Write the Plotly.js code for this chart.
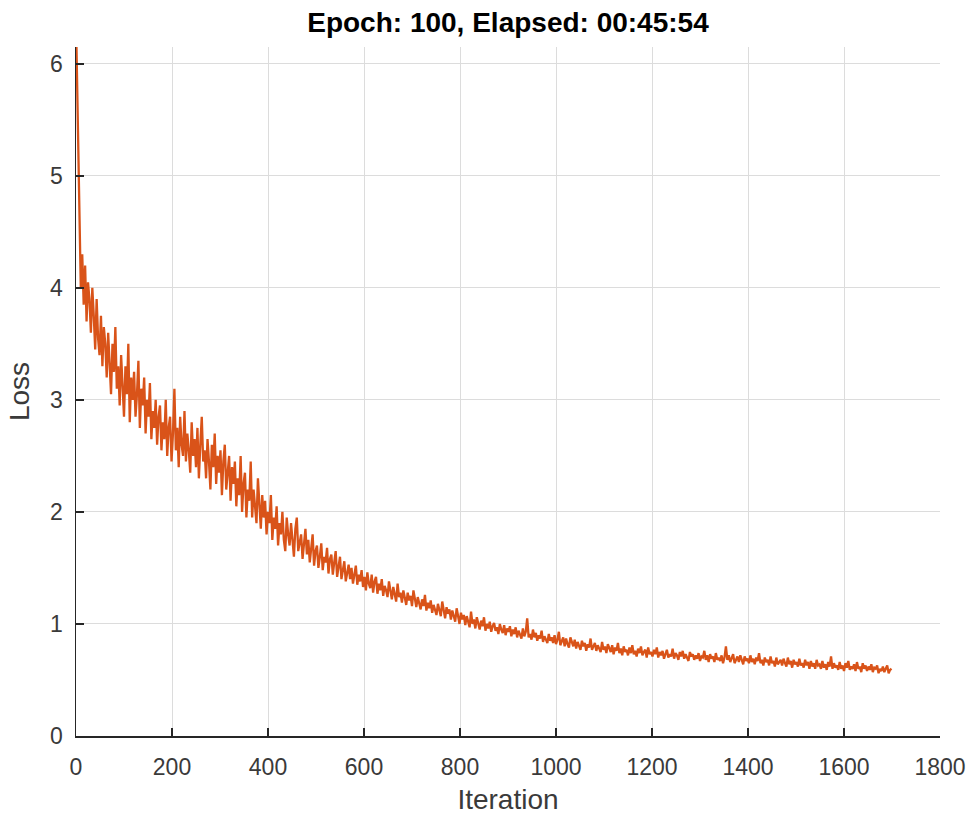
<!DOCTYPE html>
<html>
<head>
<meta charset="utf-8">
<script src="https://cdn.plot.ly/plotly-3.0.1.min.js"></script>
<style>html,body{margin:0;padding:0;background:#fff;}#chart{width:974px;height:815px;}</style>
</head>
<body>
<div id="chart"></div>
<script>
// Training loss, one value every 3 iterations starting at iteration 1
const firstIteration = 1;
const iterationStep = 3;
const lossValues = [
6.15,5.3,4.6,4.0,4.3,3.85,4.2,3.7,4.05,3.9,
3.6,4.0,3.75,3.45,3.9,3.55,3.4,3.75,3.3,3.65,
3.5,3.2,3.6,3.35,3.05,3.5,3.25,3.65,3.1,3.3,
2.95,3.4,3.15,2.85,3.3,3.05,3.5,2.8,3.2,3.0,
3.25,2.85,3.05,3.35,2.75,3.1,2.95,3.2,2.7,3.0,
2.85,3.15,2.65,2.9,2.75,3.0,2.6,2.85,2.95,2.55,
2.8,2.65,3.0,2.5,2.75,2.85,2.45,2.7,3.1,2.55,
2.75,2.4,2.85,2.6,2.5,2.9,2.45,2.7,2.55,2.35,
2.8,2.5,2.65,2.4,2.75,2.3,2.6,2.85,2.45,2.55,
2.3,2.65,2.45,2.2,2.6,2.4,2.7,2.25,2.5,2.35,
2.55,2.15,2.45,2.6,2.2,2.35,2.5,2.1,2.4,2.25,
2.45,2.05,2.3,2.15,2.5,2.0,2.25,2.35,1.95,2.2,
2.1,2.45,1.95,2.2,2.05,1.9,2.3,2.0,1.85,2.15,
1.95,2.1,1.8,2.0,1.9,2.15,1.75,1.95,1.85,2.05,
1.7,1.9,1.8,2.0,1.75,1.65,1.95,1.8,1.7,1.9,
1.75,1.6,1.85,1.95,1.65,1.75,1.8,1.58,1.7,1.85,
1.62,1.75,1.55,1.68,1.8,1.52,1.65,1.7,1.5,1.6,
1.72,1.48,1.6,1.55,1.68,1.45,1.58,1.62,1.44,1.55,
1.65,1.42,1.52,1.6,1.4,1.5,1.56,1.38,1.48,1.53,
1.4,1.5,1.36,1.46,1.52,1.35,1.44,1.38,1.48,1.33,
1.42,1.3,1.46,1.36,1.32,1.44,1.28,1.38,1.42,1.27,
1.36,1.3,1.4,1.25,1.34,1.3,1.24,1.38,1.28,1.22,
1.33,1.26,1.2,1.36,1.24,1.28,1.19,1.3,1.22,1.17,
1.28,1.21,1.25,1.16,1.3,1.2,1.15,1.24,1.18,1.13,
1.22,1.16,1.26,1.12,1.19,1.14,1.21,1.1,1.17,1.13,
1.08,1.18,1.12,1.07,1.2,1.1,1.05,1.15,1.09,1.13,
1.04,1.12,1.07,1.02,1.14,1.06,1.0,1.1,1.04,1.08,
0.99,1.07,1.02,0.97,1.11,1.0,1.04,0.96,1.06,0.99,
0.95,1.03,0.98,1.06,0.94,1.0,0.96,1.02,0.93,0.98,
1.01,0.94,0.97,0.91,1.0,0.95,0.92,0.99,0.9,0.96,
0.93,0.98,0.89,0.95,0.91,0.97,0.88,0.94,0.9,0.87,
0.96,0.89,0.93,1.05,0.88,0.91,0.86,0.95,0.88,0.92,
0.85,0.9,0.87,0.94,0.84,0.89,0.86,0.83,0.91,0.85,
0.88,0.83,0.9,0.82,0.86,0.93,0.81,0.85,0.88,0.8,
0.87,0.82,0.79,0.88,0.83,0.8,0.86,0.78,0.84,0.81,
0.77,0.85,0.8,0.83,0.76,0.82,0.79,0.87,0.77,0.8,
0.83,0.76,0.81,0.78,0.75,0.84,0.77,0.8,0.74,0.82,
0.78,0.75,0.81,0.73,0.79,0.76,0.83,0.74,0.78,0.72,
0.8,0.75,0.77,0.72,0.79,0.74,0.81,0.73,0.76,0.71,
0.78,0.74,0.8,0.72,0.75,0.77,0.7,0.79,0.73,0.75,
0.71,0.77,0.73,0.79,0.7,0.75,0.72,0.76,0.69,0.74,
0.77,0.7,0.73,0.71,0.78,0.69,0.74,0.72,0.68,0.75,
0.71,0.76,0.69,0.73,0.7,0.67,0.75,0.71,0.73,0.68,
0.72,0.69,0.74,0.67,0.71,0.7,0.76,0.68,0.72,0.66,
0.73,0.69,0.71,0.66,0.74,0.68,0.7,0.67,0.72,0.65,
0.7,0.8,0.68,0.72,0.66,0.7,0.73,0.65,0.69,0.71,
0.66,0.72,0.68,0.64,0.71,0.67,0.69,0.65,0.72,0.66,
0.69,0.64,0.7,0.67,0.74,0.65,0.68,0.63,0.7,0.66,
0.68,0.63,0.71,0.65,0.67,0.62,0.7,0.64,0.66,0.68,
0.63,0.69,0.65,0.62,0.7,0.64,0.67,0.61,0.68,0.64,
0.66,0.62,0.69,0.63,0.65,0.61,0.68,0.63,0.66,0.6,
0.67,0.62,0.65,0.6,0.68,0.63,0.64,0.6,0.67,0.61,
0.64,0.59,0.66,0.62,0.71,0.6,0.65,0.61,0.63,0.59,
0.66,0.6,0.63,0.58,0.65,0.61,0.67,0.59,0.62,0.6,
0.64,0.58,0.66,0.6,0.62,0.57,0.65,0.6,0.63,0.58,
0.62,0.59,0.64,0.57,0.61,0.6,0.63,0.56,0.6,0.58,
0.62,0.57,0.6,0.63,0.56,0.59,0.6
];
const xTickValues = [0,200,400,600,800,1000,1200,1400,1600,1800];
const yTickValues = [0,1,2,3,4,5,6];
const chartTitle = 'Epoch: 100, Elapsed: 00:45:54';
const xLabel = 'Iteration';
const yLabel = 'Loss';

const font = 'Liberation Sans, Arial, Helvetica, sans-serif';
const axisColor = '#262626';
const labelColor = '#3a3a3a';

const trace = {
  type: 'scatter',
  mode: 'lines',
  x0: firstIteration,
  dx: iterationStep,
  y: lossValues,
  line: {color: 'rgb(217,83,25)', width: 2.3},
  hoverinfo: 'skip'
};

const layout = {
  width: 974, height: 815,
  margin: {l: 76, r: 34, t: 47, b: 79},
  paper_bgcolor: '#fff', plot_bgcolor: '#fff',
  showlegend: false,
  title: {
    text: '<b>' + chartTitle + '</b>',
    font: {family: font, size: 28, color: '#000'},
    x: 0.5, xref: 'paper', xanchor: 'center',
    y: 0.973, yref: 'container', yanchor: 'middle'
  },
  xaxis: {
    range: [0, 1800],
    tickvals: xTickValues,
    ticks: 'inside', ticklen: 8, tickwidth: 1.5, tickcolor: axisColor,
    showline: true, linecolor: axisColor, linewidth: 1.5,
    showgrid: true, gridcolor: '#dcdcdc', gridwidth: 1,
    zeroline: false,
    tickfont: {family: font, size: 23, color: labelColor},
    ticklabelstandoff: 10,
    title: {text: xLabel, font: {family: font, size: 28, color: labelColor}, standoff: 14}
  },
  yaxis: {
    range: [0, 6.15],
    tickvals: yTickValues,
    ticks: 'inside', ticklen: 8, tickwidth: 1.5, tickcolor: axisColor,
    showline: true, linecolor: axisColor, linewidth: 1.5,
    showgrid: true, gridcolor: '#dcdcdc', gridwidth: 1,
    zeroline: false,
    tickfont: {family: font, size: 23, color: labelColor},
    ticklabelstandoff: 7,
    title: {text: yLabel, font: {family: font, size: 28, color: labelColor}, standoff: 12}
  }
};

Plotly.newPlot('chart', [trace], layout, {staticPlot: true, displayModeBar: false});
</script>
</body>
</html>
